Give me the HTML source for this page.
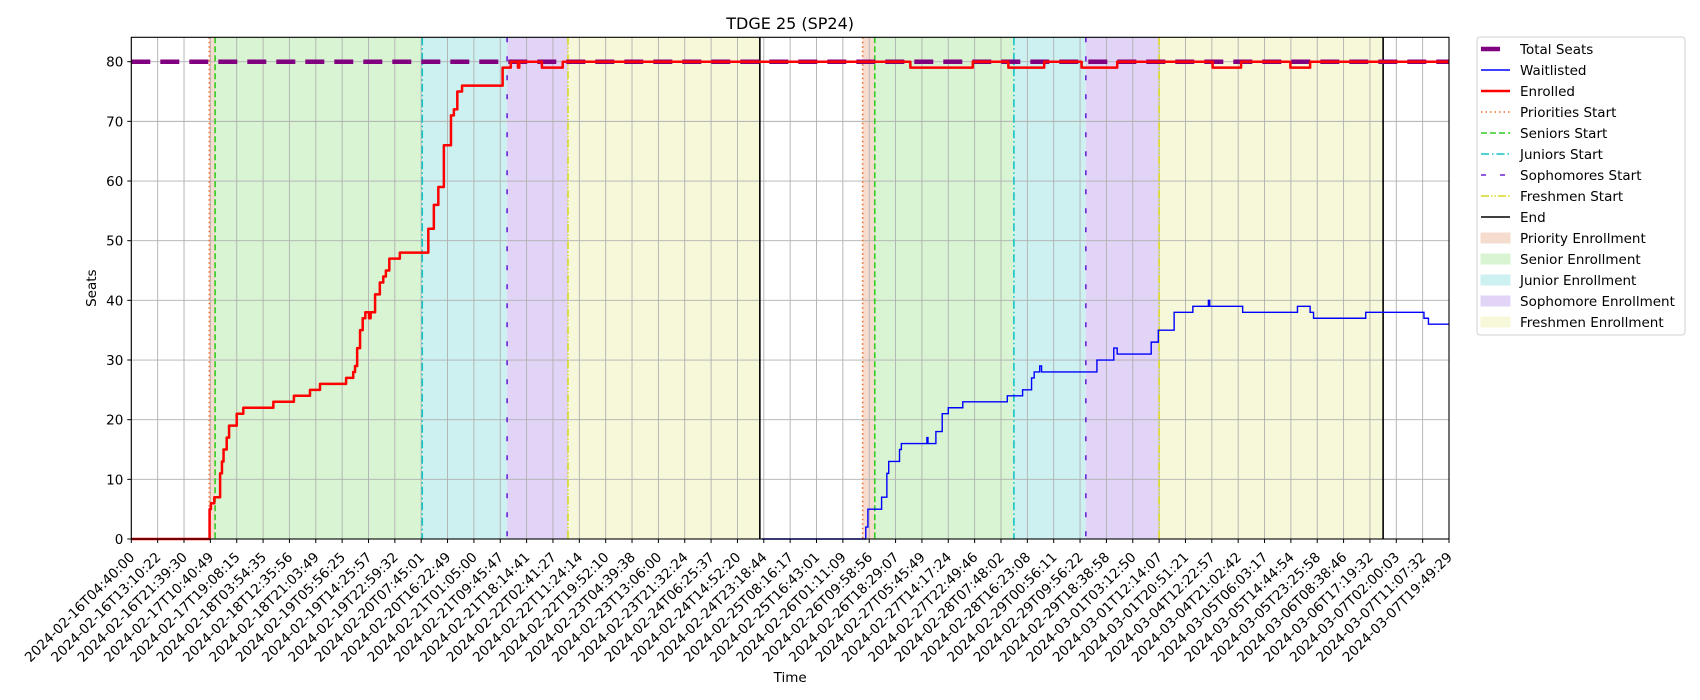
<!DOCTYPE html>
<html><head><meta charset="utf-8"><style>
body{margin:0;background:#fff}
svg{display:block;font-family:"DejaVu Sans","Liberation Sans",sans-serif}
</style></head><body>
<svg id="c" width="1700" height="700" xmlns="http://www.w3.org/2000/svg"></svg>
<script>
const tickLabels=["2024-02-16T04:40:00","2024-02-16T13:10:22","2024-02-16T21:39:30","2024-02-17T10:40:49","2024-02-17T19:08:15","2024-02-18T03:54:35","2024-02-18T12:35:56","2024-02-18T21:03:49","2024-02-19T05:56:25","2024-02-19T14:25:57","2024-02-19T22:59:32","2024-02-20T07:45:01","2024-02-20T16:22:49","2024-02-21T01:05:00","2024-02-21T09:45:47","2024-02-21T18:14:41","2024-02-22T02:41:27","2024-02-22T11:24:14","2024-02-22T19:52:10","2024-02-23T04:39:38","2024-02-23T13:06:00","2024-02-23T21:32:24","2024-02-24T06:25:37","2024-02-24T14:52:20","2024-02-24T23:18:44","2024-02-25T08:16:17","2024-02-25T16:43:01","2024-02-26T01:11:09","2024-02-26T09:58:56","2024-02-26T18:29:07","2024-02-27T05:45:49","2024-02-27T14:17:24","2024-02-27T22:49:46","2024-02-28T07:48:02","2024-02-28T16:23:08","2024-02-29T00:56:11","2024-02-29T09:56:22","2024-02-29T18:38:58","2024-03-01T03:12:50","2024-03-01T12:14:07","2024-03-01T20:51:21","2024-03-04T12:22:57","2024-03-04T21:02:42","2024-03-05T06:03:17","2024-03-05T14:44:54","2024-03-05T23:25:58","2024-03-06T08:38:46","2024-03-06T17:19:32","2024-03-07T02:00:03","2024-03-07T11:07:32","2024-03-07T19:49:29"];
const yTicks=[0,10,20,30,40,50,60,70,80];
const totalSeats=80;
const enrolledX=[0,2.93,2.97,3.02,3.15,3.37,3.44,3.50,3.62,3.71,4.0,4.25,5.39,6.17,6.78,7.16,8.15,8.42,8.49,8.57,8.68,8.78,8.88,9.02,9.08,9.25,9.43,9.56,9.66,9.79,10.19,11.27,11.48,11.65,11.86,12.13,12.24,12.37,12.55,14.09,14.40,14.67,14.72,15.58,16.37,29.56,31.93,33.28,34.64,36.06,37.41,41.03,42.11,43.98,44.73,50];
const enrolledY=[0,0,5,6,7,11,13,15,17,19,21,22,23,24,25,26,27,28,29,32,35,37,38,37,38,41,43,44,45,47,48,52,56,59,66,71,72,75,76,79,80,79,80,79,80,79,80,79,80,79,80,79,80,79,80,80];
const waitX=[23.93,27.79,27.87,27.95,28.47,28.67,28.74,29.15,29.22,30.16,30.19,30.23,30.53,30.77,31.0,31.55,33.24,33.82,34.16,34.26,34.47,34.54,36.64,37.28,37.41,38.7,38.97,39.57,40.28,40.87,40.92,42.17,44.25,44.73,44.86,46.84,49.05,49.22,50];
const waitY=[0,0,2,5,7,11,13,15,16,16,17,16,18,21,22,23,24,25,27,28,29,28,30,32,31,33,35,38,39,40,39,38,39,38,37,38,37,36,36];
const phaseNames=["priority","senior","junior","sophomore","freshmen"];
const phaseStarts1=[2.96,3.18,11.04,14.26,16.57];const end1=23.85;
const phaseStarts2=[27.75,28.21,33.49,36.22,39.0];const end2=47.5;

const L=131.3,R=1449,T=37.3,B=539;
const X=v=>L+(R-L)*v/50, Y=v=>B-(B-61.7)*v/80;
const svg=document.getElementById('c');const NS='http://www.w3.org/2000/svg';
function mk(tag,at,parent){const e=document.createElementNS(NS,tag);for(const k in at)e.setAttribute(k,at[k]);(parent||svg).appendChild(e);return e;}
const spanCol=['#f6dccf','#d9f4d2','#cdf1f1','#e1d4f6','#f7f8da'];
const lineCol=['#f26b2f','#33cc22','#14c4c4','#6a22d6','#d8d820'];
const lineDash=['1.5,3','6,3','8,3,1.5,3','5,14','8,2,1.5,2,1.5,2'];
const gSpans=mk('g',{});


[[phaseStarts1,end1],[phaseStarts2,end2]].forEach(([s,e])=>{
  for(let i=0;i<5;i++){const a=s[i],b=i<4?s[i+1]:e;
    const r=mk('rect',{x:X(a),y:T,width:X(b)-X(a),height:B-T,fill:spanCol[i]},gSpans);
    
    }
});
for(let i=0;i<=50;i++){const g=mk('line',{x1:X(i),x2:X(i),y1:T,y2:B,stroke:'#b0b0b0','stroke-width':0.9});
  
  }
yTicks.forEach(v=>{const g=mk('line',{x1:L,x2:R,y1:Y(v),y2:Y(v),stroke:'#b0b0b0','stroke-width':0.9});
  
  });
[[phaseStarts1,end1],[phaseStarts2,end2]].forEach(([s,e])=>{
  for(let i=0;i<5;i++){const l=mk('line',{x1:X(s[i]),x2:X(s[i]),y1:T,y2:B,stroke:lineCol[i],'stroke-width':1.6,'stroke-dasharray':lineDash[i]});
    
    }
  const l=mk('line',{x1:X(e),x2:X(e),y1:T,y2:B,stroke:'#000','stroke-width':1.6});
  
  
});
function stepPath(xs,ys){let d='M'+X(xs[0])+','+Y(ys[0]);for(let i=1;i<xs.length;i++){d+='L'+X(xs[i])+','+Y(ys[i-1])+'L'+X(xs[i])+','+Y(ys[i]);}return d;}
const ts=mk('line',{x1:L,x2:R,y1:Y(totalSeats),y2:Y(totalSeats),stroke:'#800080','stroke-width':4.5,'stroke-dasharray':'19,10'});


const wl=mk('path',{d:stepPath(waitX,waitY),fill:'none',stroke:'#0000ff','stroke-width':1.4});


const en=mk('path',{d:stepPath(enrolledX,enrolledY),fill:'none',stroke:'#ff0000','stroke-width':2.5,'stroke-linejoin':'round'});


const fr=mk('rect',{x:L,y:T,width:R-L,height:B-T,fill:'none',stroke:'#000','stroke-width':1.1});


yTicks.forEach(v=>{mk('line',{x1:L-4,x2:L,y1:Y(v),y2:Y(v),stroke:'#000'});
  const t=mk('text',{x:L-8,y:Y(v)+5,'text-anchor':'end','font-size':13.5,fill:'#000'});t.textContent=v;
  
  });
tickLabels.forEach((s,i)=>{const x=X(i);mk('line',{x1:x,x2:x,y1:B,y2:B+4,stroke:'#000'});
  const t=mk('text',{x:x+4,y:B+19,'text-anchor':'end','font-size':13.6,fill:'#000',transform:`rotate(-45 ${x+4} ${B+19})`});t.textContent=s;
  
  });
let t=mk('text',{x:(L+R)/2,y:29,'text-anchor':'middle','font-size':16,fill:'#000'});t.textContent='TDGE 25 (SP24)';


t=mk('text',{x:(L+R)/2,y:682,'text-anchor':'middle','font-size':13.5,fill:'#000'});t.textContent='Time';


t=mk('text',{x:96,y:(T+B)/2,'text-anchor':'middle','font-size':13.5,fill:'#000',transform:`rotate(-90 96 ${(T+B)/2})`});t.textContent='Seats';


const lg=mk('g',{});


mk('rect',{x:1477,y:37,width:208,height:298,rx:3,fill:'#fff',stroke:'#d0d0d0'},lg);
const items=[['Total Seats','line','#800080',4.5,'19,10'],['Waitlisted','line','#0000ff',1.4,''],['Enrolled','line','#ff0000',2.5,''],
['Priorities Start','line',lineCol[0],1.6,lineDash[0]],['Seniors Start','line',lineCol[1],1.6,lineDash[1]],['Juniors Start','line',lineCol[2],1.6,lineDash[2]],
['Sophomores Start','line',lineCol[3],1.6,lineDash[3]],['Freshmen Start','line',lineCol[4],1.6,lineDash[4]],['End','line','#000',1.6,''],
['Priority Enrollment','rect',spanCol[0]],['Senior Enrollment','rect',spanCol[1]],['Junior Enrollment','rect',spanCol[2]],['Sophomore Enrollment','rect',spanCol[3]],['Freshmen Enrollment','rect',spanCol[4]]];
items.forEach((it,i)=>{const y=49+21*i;
  const g=mk('g',{},lg);
  
  
  if(it[1]==='line')mk('line',{x1:1481,x2:1510,y1:y,y2:y,stroke:it[2],'stroke-width':it[3],'stroke-dasharray':it[4]},g);
  else mk('rect',{x:1481,y:y-5,width:29,height:10,fill:it[2],stroke:it[2]},g);
  const tx=mk('text',{x:1520,y:y+5,'font-size':13.5,fill:'#000'},g);tx.textContent=it[0];});
</script>
</body></html>
